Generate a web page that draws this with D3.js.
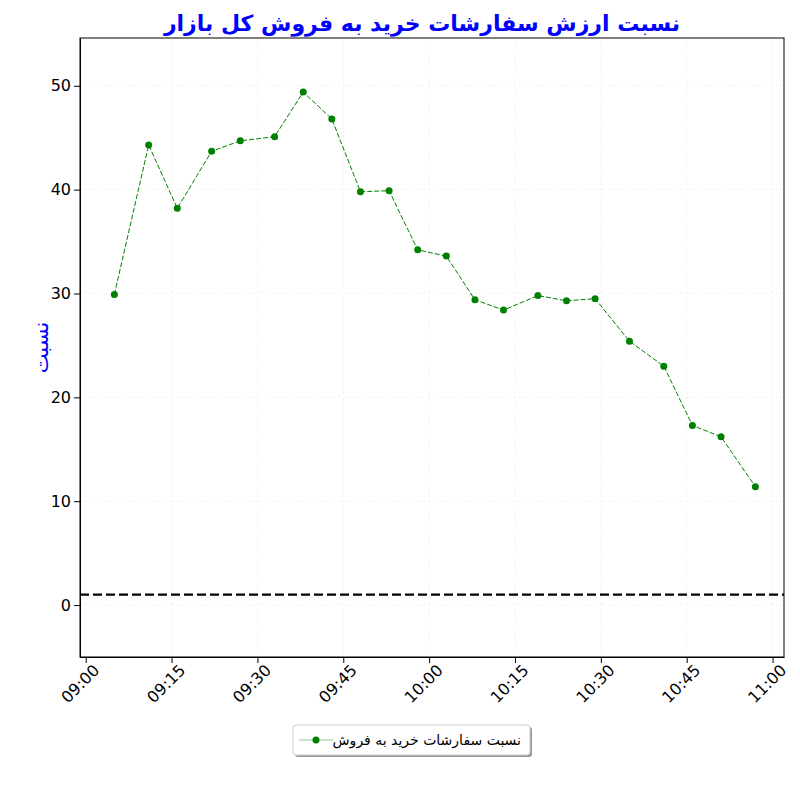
<!DOCTYPE html>
<html><head><meta charset="utf-8">
<script src="https://cdn.jsdelivr.net/npm/d3@7"></script>
<style>body{margin:0;background:#fff}</style>
</head><body>
<svg id="chart" width="800" height="800"></svg>
<script>
var times = ["09:05","09:11","09:16","09:22","09:27","09:33","09:38","09:43","09:48","09:53","09:58","10:03","10:08","10:13","10:19","10:24","10:29","10:35","10:41","10:46","10:51","10:57"];
var ratios = [29.9,44.3,38.2,43.7,44.7,45.1,49.4,46.8,39.8,39.9,34.2,33.6,29.4,28.4,29.8,29.3,29.5,25.4,23.0,17.3,16.2,11.4];
var xTicks = ["09:00","09:15","09:30","09:45","10:00","10:15","10:30","10:45","11:00"];
var yTicks = [0,10,20,30,40,50];
var refLine = 1;

var parse = d3.timeParse("%H:%M");
var data = times.map(function(t,i){ return {t: parse(t), v: ratios[i]}; });

var svg = d3.select("#chart");
var m = {left: 80, right: 16, top: 38, bottom: 143};
var w = 800 - m.left - m.right, h = 800 - m.top - m.bottom;
var g = svg.append("g").attr("transform", "translate("+m.left+","+m.top+")");

var x = d3.scaleTime()
	.domain([d3.timeMinute.offset(parse("09:00"), -0.5), d3.timeMinute.offset(parse("11:00"), 2.4)])
	.range([0, w]);
var y = d3.scaleLinear().domain([-5, 54.6]).range([h, 0]);

// grid
g.append("g").selectAll("line").data(xTicks).enter().append("line")
	.attr("x1", function(d){return x(parse(d));}).attr("x2", function(d){return x(parse(d));})
	.attr("y1", 0).attr("y2", h).attr("stroke", "#f2f2f2").attr("stroke-dasharray", "3,3");
g.append("g").selectAll("line").data(yTicks).enter().append("line")
	.attr("x1", 0).attr("x2", w).attr("y1", y).attr("y2", y)
	.attr("stroke", "#f2f2f2").attr("stroke-dasharray", "3,3");

g.append("line").attr("x1", 0).attr("x2", w).attr("y1", y(refLine)).attr("y2", y(refLine))
	.attr("stroke", "#000").attr("stroke-width", 2.2).attr("stroke-dasharray", "9,4");

g.append("path").datum(data)
	.attr("fill", "none").attr("stroke", "green").attr("stroke-width", 1).attr("stroke-dasharray", "5,2")
	.attr("d", d3.line().x(function(d){return x(d.t);}).y(function(d){return y(d.v);}));
g.selectAll("circle.pt").data(data).enter().append("circle")
	.attr("cx", function(d){return x(d.t);}).attr("cy", function(d){return y(d.v);})
	.attr("r", 3.5).attr("fill", "green");

var xAxis = g.append("g").attr("transform", "translate(0,"+h+")")
	.call(d3.axisBottom(x).tickValues(xTicks.map(parse)).tickFormat(d3.timeFormat("%H:%M")).tickSizeOuter(0));
xAxis.selectAll("text").attr("font-size", 16).attr("font-family", "DejaVu Sans")
	.attr("text-anchor", "end").attr("dx", "0em").attr("dy", "0.7em").attr("transform", "rotate(-45)");
var yAxis = g.append("g").call(d3.axisLeft(y).tickValues(yTicks).tickSizeOuter(0));
yAxis.selectAll("text").attr("font-size", 16).attr("font-family", "DejaVu Sans");
g.append("rect").attr("width", w).attr("height", h).attr("fill", "none").attr("stroke", "#000");

svg.append("text").attr("x", m.left + w/2 - 10).attr("y", 31).attr("text-anchor", "middle")
	.attr("fill", "blue").attr("font-weight", "bold").attr("font-size", 22).attr("font-family", "DejaVu Sans")
	.text("نسبت ارزش سفارشات خرید به فروش کل بازار");
svg.append("text").attr("transform", "translate(48,"+(m.top+h/2)+") rotate(-90)")
	.attr("text-anchor", "middle").attr("fill", "blue").attr("font-size", 21).attr("font-family", "DejaVu Sans")
	.text("نسبت");

// legend
var lg = svg.append("g").attr("transform", "translate(293,725)");
lg.append("rect").attr("x", 2).attr("y", 2).attr("width", 237).attr("height", 30).attr("rx", 3).attr("fill", "#999");
lg.append("rect").attr("width", 237).attr("height", 30).attr("rx", 3).attr("fill", "#fff").attr("stroke", "#ccc");
lg.append("line").attr("x1", 6).attr("x2", 40).attr("y1", 15).attr("y2", 15).attr("stroke", "#8c8").attr("stroke-width", 1);
lg.append("circle").attr("cx", 23).attr("cy", 15).attr("r", 3.5).attr("fill", "green");
lg.append("text").attr("x", 228).attr("y", 20).attr("text-anchor", "end").attr("font-size", 14)
	.attr("font-family", "DejaVu Sans").text("نسبت سفارشات خرید به فروش");
</script>
</body></html>
